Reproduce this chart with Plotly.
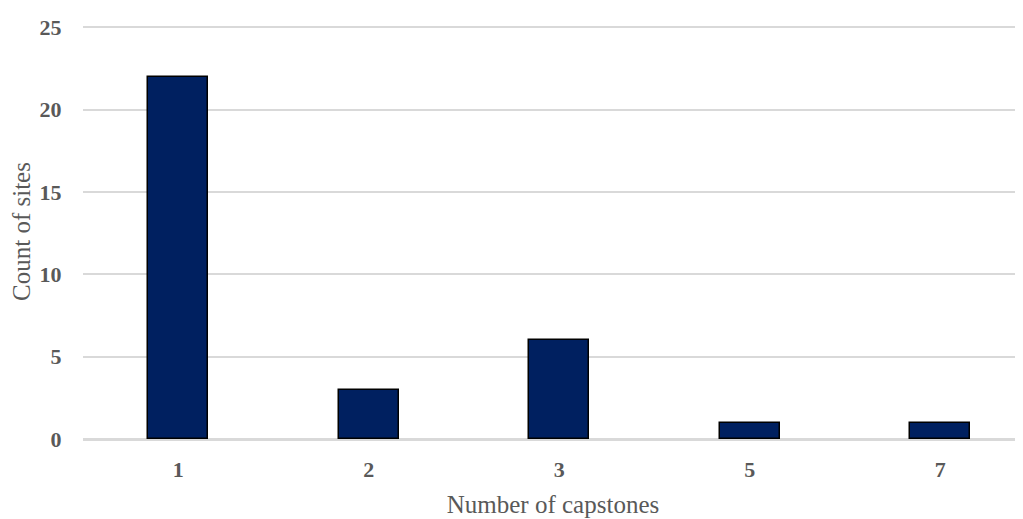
import plotly.graph_objects as go

categories = ["1", "2", "3", "5", "7"]
counts = [22, 3, 6, 1, 1]

fig = go.Figure(go.Bar(
    x=categories, y=counts,
    marker=dict(color="#002060", line=dict(color="#000000", width=1.5)),
    width=0.315,
))

# page body has an 8px margin, so the figure is offset by 8px
fig.update_layout(
    width=1015, height=511,
    margin=dict(l=75, r=0, t=16, b=80),
    plot_bgcolor="white", paper_bgcolor="white",
    font=dict(family="Liberation Serif, Times New Roman, serif", color="#595959"),
    showlegend=False,
    bargap=0,
)
fig.update_xaxes(
    type="category", range=[-0.5, 4.434], automargin=False,
    tickfont=dict(size=22, color="#595959", family="Liberation Serif", weight="bold"),
    ticks="outside", ticklen=10, tickcolor="rgba(0,0,0,0)",
    showline=True, linecolor="#d9d9d9", linewidth=1.5, showgrid=False,
    title=dict(text="Number of capstones", font=dict(size=25, color="#595959"), standoff=14),
)
fig.update_yaxes(
    range=[0, 25.2], dtick=5, automargin=False,
    tickfont=dict(size=22, color="#595959", family="Liberation Serif", weight="bold"),
    ticks="outside", ticklen=16, tickcolor="rgba(0,0,0,0)",
    showgrid=True, gridcolor="#d9d9d9", gridwidth=1.5,
    zeroline=True, zerolinecolor="#d9d9d9", zerolinewidth=1.5,
    title=dict(text="Count of sites", font=dict(size=25, color="#595959"), standoff=20),
)

fig.write_html("out.html")
